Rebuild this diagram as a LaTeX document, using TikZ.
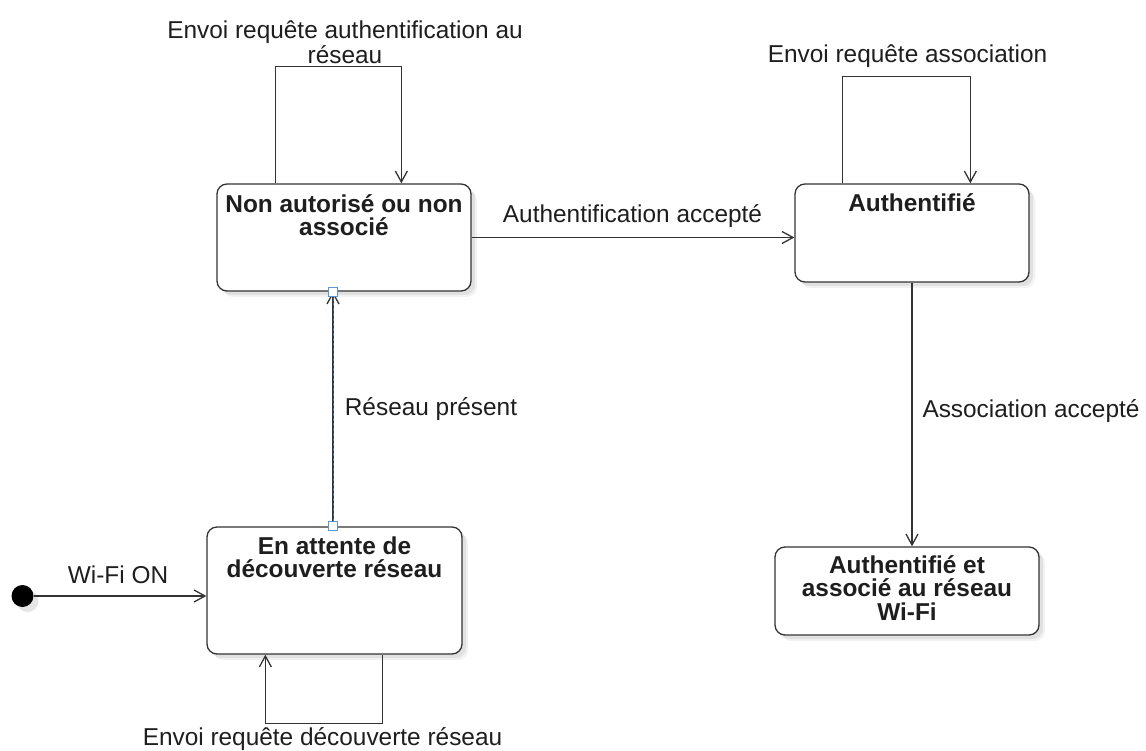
\documentclass[tikz,border=0pt]{standalone}
\usepackage{fontspec}
\setmainfont{Liberation Sans}
\usetikzlibrary{arrows.meta,calc,shadows}

\definecolor{edgegray}{RGB}{51,51,51}
\definecolor{txtgray}{RGB}{30,30,30}
\definecolor{selblue}{RGB}{70,110,170}
\definecolor{handleblue}{RGB}{90,150,210}

\begin{document}
\begin{tikzpicture}[x=1pt,y=-1pt,
  softshadow/.style={
    general shadow={shadow xshift=6pt,shadow yshift=-6pt,fill=black,opacity=0.05},
    general shadow={shadow xshift=4pt,shadow yshift=-4pt,fill=black,opacity=0.07}},
  statebox/.style={draw=edgegray,line width=1.3pt,rounded corners=10pt,
    fill=white,inner sep=0pt,softshadow},
  title/.style={font=\bfseries\fontsize{24.4}{23.5}\selectfont,text=txtgray,
    align=center,inner sep=0pt},
  lbl/.style={font=\fontsize{24.4}{25}\selectfont,text=txtgray,
    align=center,inner sep=0pt},
  edge/.style={draw=edgegray,line width=1.3pt},
  arr/.style={edge,-{Straight Barb[length=11pt,width=12pt,line width=1.3pt]}},
  handle/.style={draw=handleblue,fill=white,line width=1pt,
    minimum size=9pt,inner sep=0pt}]

\useasboundingbox (0,0) rectangle (1146,751);

% states
\node[statebox,minimum width=254pt,minimum height=107pt] (A) at (344,237.5) {};
\node[statebox,minimum width=234pt,minimum height=98pt]  (B) at (912,233) {};
\node[statebox,minimum width=255pt,minimum height=127pt] (C) at (334.5,590.5) {};
\node[statebox,minimum width=264pt,minimum height=88pt]  (D) at (907,591) {};

% state titles
\node[title] (tA) at (344,215) {Non autorisé ou non\\associé};
\node[title,anchor=base] (tB) at (912,212) {Authentifié};
\node[title] (tC) at (334.5,557.5) {En attente de\\découverte réseau};
\node[title] (tD) at (907,588) {Authentifié et\\associé au réseau\\Wi-Fi};

% initial pseudo-state
\node[circle,fill=black,minimum size=22pt,inner sep=0pt,
  general shadow={shadow xshift=5pt,shadow yshift=-5pt,fill=black,opacity=0.1}]
  (init) at (22.5,596) {};

% transitions
\draw[arr] (init.east) -- (init.east -| C.west);
\draw[arr] (A.east) -- (A.east -| B.west);
\draw[arr] (B.south) -- (B.south |- D.north);

% self-loops
\draw[arr] ([xshift=59pt]A.north west) |- ([xshift=185pt,yshift=117pt]A.north west)
  -- ([xshift=185pt]A.north west);
\draw[arr] ([xshift=48pt]B.north west) |- ([xshift=176pt,yshift=107pt]B.north west)
  -- ([xshift=176pt]B.north west);
\draw[arr] ([xshift=176pt]C.south west) |- ([xshift=59pt,yshift=-69pt]C.south west)
  -- ([xshift=59pt]C.south west);

% selected transition with its end handles
\coordinate (vx) at (333,0);
\draw[arr] (C.north -| vx) -- (A.south -| vx);
\draw[selblue,line width=0.7pt,dash pattern=on 3pt off 2pt]
  ([yshift=5pt]C.north -| vx) -- ([yshift=-5pt]A.south -| vx);
\node[handle] (hC) at (C.north -| vx) {};
\node[handle] (hA) at (A.south -| vx) {};

% transition labels
\node[lbl] (lAuthReq) at (345,42.5) {Envoi requête authentification au\\réseau};
\node[lbl,anchor=base] (lAssocReq) at (907.5,63) {Envoi requête association};
\node[lbl,anchor=base] (lAuthOk) at (632.5,223) {Authentification accepté};
\node[lbl,anchor=base] (lNet) at (431,415) {Réseau présent};
\node[lbl,anchor=base] (lAssocOk) at (1031,417) {Association accepté};
\node[lbl,anchor=base] (lWifi) at (118,583) {Wi-Fi ON};
\node[lbl,anchor=base] (lDisc) at (322.5,745) {Envoi requête découverte réseau};

\end{tikzpicture}
\end{document}
